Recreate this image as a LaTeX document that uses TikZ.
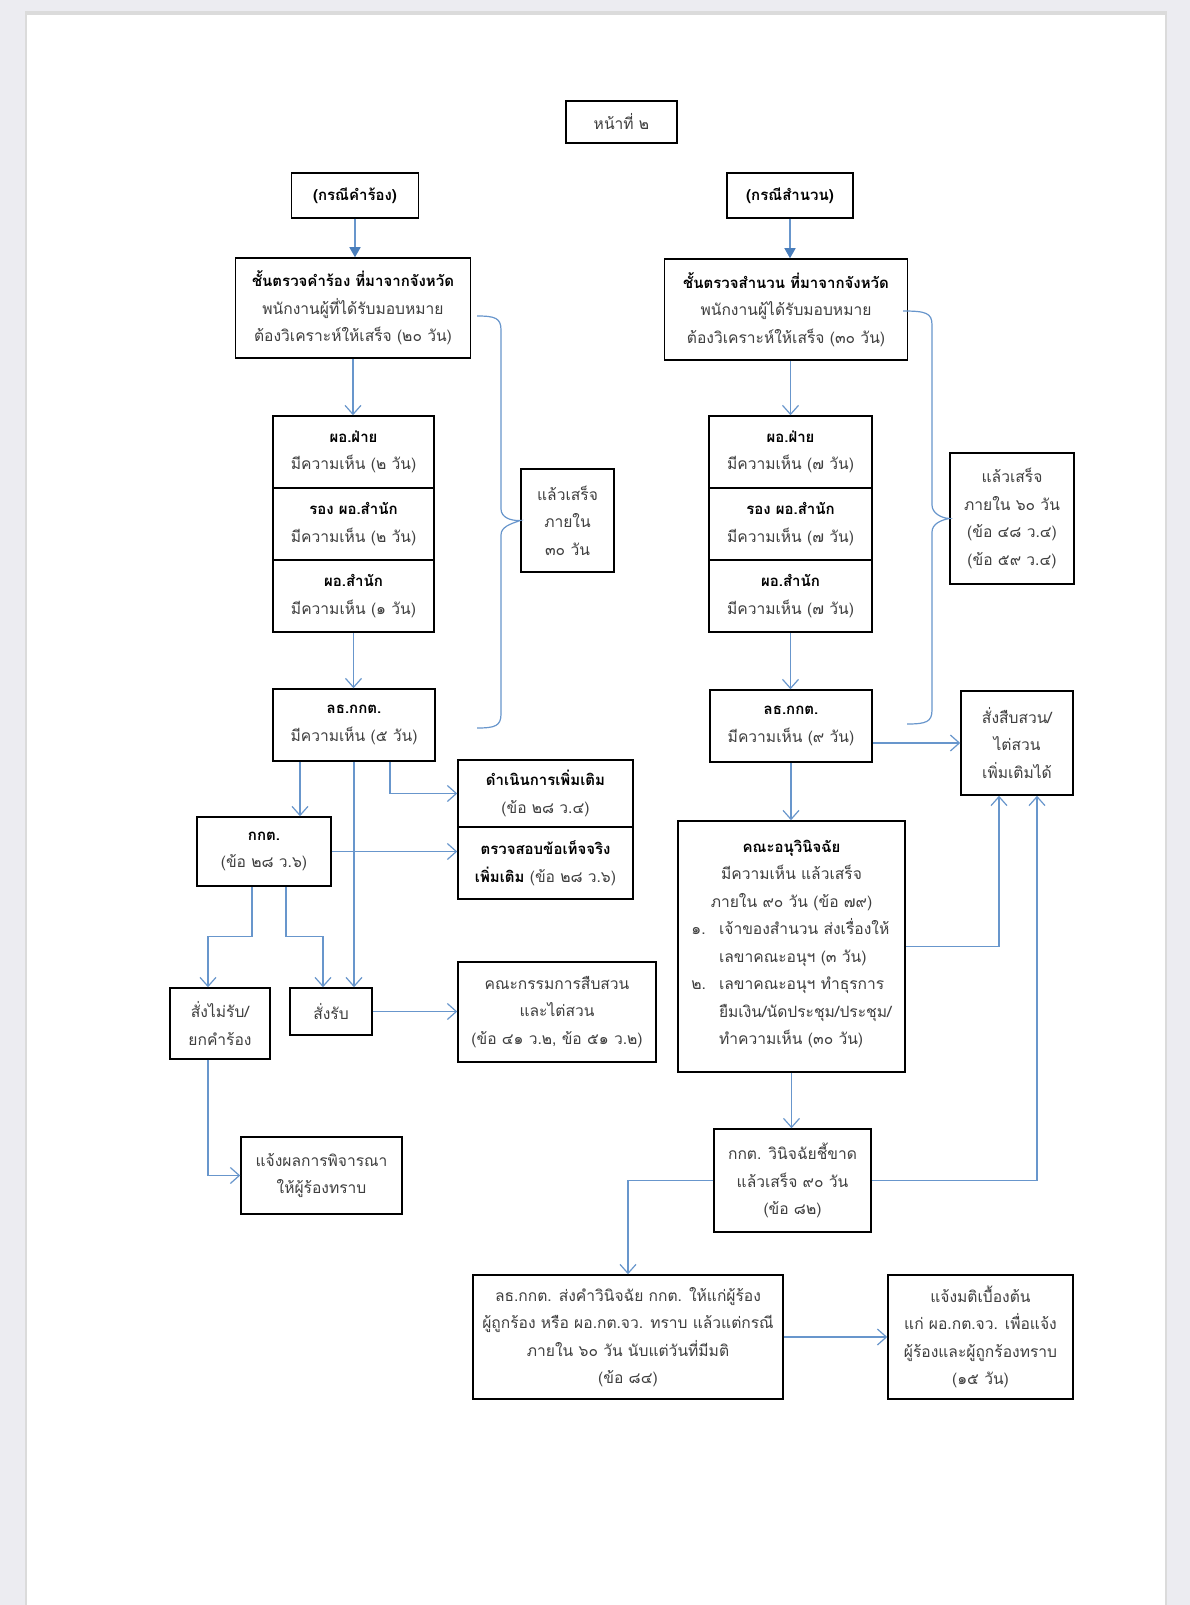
\documentclass[tikz,border=0pt]{standalone}
\usepackage{fontspec}
\usepackage{xcolor}
\usetikzlibrary{arrows.meta}
\newfontfamily\thaifont[Script=Thai]{Loma}
\definecolor{linkblue}{RGB}{104,150,204}
\definecolor{tipblue}{RGB}{74,126,187}
\definecolor{txtgray}{RGB}{62,62,62}
\definecolor{pagegray}{RGB}{236,236,241}
\newcommand{\hd}[1]{{\bfseries\color{black}\fontsize{15}{27.5}\selectfont#1}}
\tikzset{
  box/.style 2 args={draw, line width=1.5pt, align=center, inner sep=0pt,
    minimum width=#1, minimum height=#2, text=txtgray,
    font=\thaifont\fontsize{15.6}{27.5}\selectfont},
  arr/.style={draw=linkblue, line width=1.2pt, -{Straight Barb[length=9pt,width=16pt]}},
  farr/.style={draw=linkblue, line width=1.4pt, -{Triangle[length=10pt,width=11pt,color=tipblue]}},
  lnk/.style={draw=linkblue, line width=1.2pt},
}
\begin{document}
\begin{tikzpicture}[x=1pt,y=1pt,yscale=-1,xscale=1]
\useasboundingbox (0,0) rectangle (1190,1605);
%Page
\fill[pagegray] (0,0) rectangle (1190,1605);
\fill[gray!28] (25,11) rectangle (1167,1605);
\fill[white] (27,15) rectangle (1165,1605);

% Text Node
\node[box={111pt}{42pt}] (pg) at (621.5,122) {หน้าที่ ๒};
% Text Node
\node[box={127pt}{45pt}] (caseL) at (355,195.5) {\hd{(กรณีคำร้อง)}};
% Text Node
\node[box={126pt}{45pt}] (caseR) at (790,195.5) {\hd{(กรณีสำนวน)}};
% Text Node
\node[box={235pt}{100pt}] (chkL) at (353,308) {\hd{ชั้นตรวจคำร้อง ที่มาจากจังหวัด}\\พนักงานผู้ที่ได้รับมอบหมาย\\ต้องวิเคราะห์ให้เสร็จ (๒๐ วัน)};
% Text Node
\node[box={243pt}{101pt}] (chkR) at (786,309.5) {\hd{ชั้นตรวจสำนวน ที่มาจากจังหวัด}\\พนักงานผู้ได้รับมอบหมาย\\ต้องวิเคราะห์ให้เสร็จ (๓๐ วัน)};
% Text Node
\node[box={161pt}{72pt}] (divL) at (353.5,452) {\hd{ผอ.ฝ่าย}\\มีความเห็น (๒ วัน)};
\node[box={161pt}{72pt}] (depL) at (353.5,524) {\hd{รอง ผอ.สำนัก}\\มีความเห็น (๒ วัน)};
\node[box={161pt}{72pt}] (burL) at (353.5,596) {\hd{ผอ.สำนัก}\\มีความเห็น (๑ วัน)};
% Text Node
\node[box={163pt}{72pt}] (divR) at (790.5,452) {\hd{ผอ.ฝ่าย}\\มีความเห็น (๗ วัน)};
\node[box={163pt}{72pt}] (depR) at (790.5,524) {\hd{รอง ผอ.สำนัก}\\มีความเห็น (๗ วัน)};
\node[box={163pt}{72pt}] (burR) at (790.5,596) {\hd{ผอ.สำนัก}\\มีความเห็น (๗ วัน)};
% Text Node
\node[box={162pt}{72pt}] (secL) at (354,725) {\hd{ลธ.กกต.}\\มีความเห็น (๕ วัน)};
\node[box={162pt}{72pt}] (secR) at (791,726) {\hd{ลธ.กกต.}\\มีความเห็น (๙ วัน)};
% Text Node
\node[box={93pt}{103pt}] (doneL) at (567.5,520.5) {แล้วเสร็จ\\ภายใน\\๓๐ วัน};
\node[box={124pt}{131pt}] (doneR) at (1012,518.5) {แล้วเสร็จ\\ภายใน ๖๐ วัน\\(ข้อ ๔๘ ว.๔)\\(ข้อ ๕๙ ว.๔)};
% Text Node
\node[box={112pt}{104pt}] (probeR) at (1017,743) {สั่งสืบสวน/\\ไต่สวน\\เพิ่มเติมได้};
% Text Node
\node[box={175pt}{67pt}] (extra) at (545.5,793.5) {\hd{ดำเนินการเพิ่มเติม}\\(ข้อ ๒๘ ว.๔)};
\node[box={175pt}{72pt}] (facts) at (545.5,863) {\hd{ตรวจสอบข้อเท็จจริง}\\\hd{เพิ่มเติม} (ข้อ ๒๘ ว.๖)};
% Text Node
\node[box={134pt}{69pt}] (ectL) at (264,851.5) {\hd{กกต.}\\(ข้อ ๒๘ ว.๖)};
% Text Node
\node[box={100pt}{71pt}] (reject) at (220,1023.5) {สั่งไม่รับ/\\ยกคำร้อง};
\node[box={82pt}{47pt}] (accept) at (331,1011.5) {สั่งรับ};
\node[box={198pt}{100pt}] (inquiry) at (557,1012) {คณะกรรมการสืบสวน\\และไต่สวน\\(ข้อ ๔๑ ว.๒, ข้อ ๕๑ ว.๒)};
\node[box={161pt}{77pt}] (notify) at (321.5,1175.5) {แจ้งผลการพิจารณา\\ให้ผู้ร้องทราบ};
% Text Node
\node[box={227pt}{251pt}] (panel) at (791.5,946.5) {\hd{คณะอนุวินิจฉัย}\\มีความเห็น แล้วเสร็จ\\ภายใน ๙๐ วัน (ข้อ ๗๙)\\
  \begin{tabular}[t]{@{}l@{\hspace{13pt}}l@{}}
  ๑. & เจ้าของสำนวน ส่งเรื่องให้\\
     & เลขาคณะอนุฯ (๓ วัน)\\
  ๒. & เลขาคณะอนุฯ ทำธุรการ\\
     & ยืมเงิน/นัดประชุม/ประชุม/\\
     & ทำความเห็น (๓๐ วัน)
  \end{tabular}};
% Text Node
\node[box={157pt}{103pt}] (ruling) at (792.5,1180.5) {กกต. วินิจฉัยชี้ขาด\\แล้วเสร็จ ๙๐ วัน\\(ข้อ ๘๒)};
\node[box={310pt}{124pt}] (sendout) at (628,1337) {ลธ.กกต. ส่งคำวินิจฉัย กกต. ให้แก่ผู้ร้อง\\ผู้ถูกร้อง หรือ ผอ.กต.จว. ทราบ แล้วแต่กรณี\\ภายใน ๖๐ วัน นับแต่วันที่มีมติ\\(ข้อ ๘๔)};
\node[box={185pt}{124pt}] (inform) at (980.5,1337) {แจ้งมติเบื้องต้น\\แก่ ผอ.กต.จว. เพื่อแจ้ง\\ผู้ร้องและผู้ถูกร้องทราบ\\(๑๕ วัน)};

%Straight Lines
\draw[farr] (caseL.south) -- (caseL.south |- chkL.north);
\draw[farr] (caseR.south) -- (caseR.south |- chkR.north);
\draw[arr] (chkL.south) -- (chkL.south |- divL.north);
\draw[arr] (burL.south) -- (burL.south |- secL.north);
\draw[arr] (divR.north |- chkR.south) -- (divR.north);
\draw[arr] (burR.south) -- (burR.south |- secR.north);
\draw[arr] (secR.east |- probeR.west) -- (probeR.west);
\draw[arr] (secR.south) -- (secR.south |- panel.north);
\draw[arr] (panel.south) -- (panel.south |- ruling.north);
\draw[arr] (panel.east) -| ([xshift=-18pt]probeR.south);
\draw[arr] (ruling.east) -| ([xshift=20pt]probeR.south);
\draw[arr] (ruling.west) -| (sendout.north);
\draw[arr] (sendout.east) -- (inform.west);
%Left branch
\draw[arr] ([xshift=-54pt]secL.south) -- ([xshift=-54pt]secL.south |- ectL.north);
\draw[arr] (secL.south) -- (secL.south |- accept.north);
\draw[arr] ([xshift=36pt]secL.south) |- (extra.west);
\draw[arr] (ectL.east) -- (ectL.east -| facts.west);
\draw[arr] ([xshift=-12pt]ectL.south) -- ++(0,50) -| ([xshift=-12pt]reject.north);
\draw[arr] ([xshift=22pt]ectL.south) -- ++(0,50) -| ([xshift=-8pt]accept.north);
\draw[arr] (accept.east) -- (accept.east -| inquiry.west);
\draw[arr] ([xshift=-12pt]reject.south) |- (notify.west);

%Braces
\draw[lnk] (477,316) .. controls (495,316) and (501,318) .. (501,330) -- (501,509)
  .. controls (501,517) and (510,521) .. (doneL.west)
  .. controls (510,524) and (501,527) .. (501,535) -- (501,714)
  .. controls (501,726) and (495,728) .. (477,728);
\draw[lnk] (903,311) .. controls (926,311) and (932,313) .. (932,325) -- (932,505)
  .. controls (932,513) and (941,518) .. (doneR.west)
  .. controls (941,520) and (932,524) .. (932,532) -- (932,710)
  .. controls (932,722) and (926,724) .. (907,724);

\end{tikzpicture}
\end{document}
